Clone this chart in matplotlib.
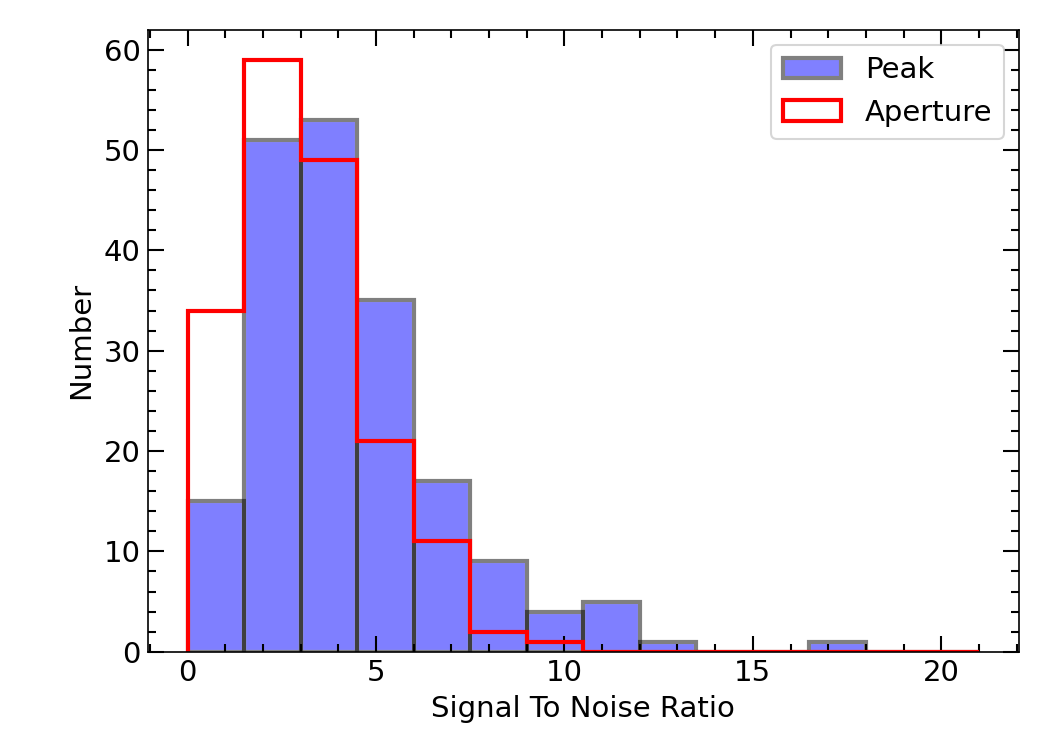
import numpy as np
import matplotlib
matplotlib.use("Agg")
import matplotlib.pyplot as plt
from matplotlib.patches import Patch
from matplotlib.ticker import MultipleLocator

# bin edges: width 1.5 from 0 to 21
bin_edges = np.arange(0, 21.01, 1.5)
peak_counts = [15, 51, 53, 35, 17, 9, 4, 5, 1, 0, 0, 1, 0, 0]
aperture_counts = [34, 59, 49, 21, 11, 2, 1, 0, 0, 0, 0, 0, 0, 0]

centers = bin_edges[:-1] + 0.75

fig, ax = plt.subplots(figsize=(7, 5), dpi=150)
fig.subplots_adjust(left=0.141, right=0.970, top=0.96, bottom=0.131)

# peak: blue faces, then grey edges laid over white so they stay neutral
ax.hist(centers, bins=bin_edges, weights=peak_counts, color="blue", alpha=0.5,
        linewidth=0)
ax.hist(centers, bins=bin_edges, weights=peak_counts, facecolor="none",
        edgecolor="white", linewidth=2)
ax.hist(centers, bins=bin_edges, weights=peak_counts, facecolor="none",
        edgecolor=(0, 0, 0, 0.5), linewidth=2)
ax.hist(centers, bins=bin_edges, weights=aperture_counts, histtype="step",
        color="red", linewidth=2)

ax.set_xlabel("Signal To Noise Ratio", fontsize=14)
ax.set_ylabel("Number", fontsize=14)

ax.xaxis.set_minor_locator(MultipleLocator(1))
ax.yaxis.set_minor_locator(MultipleLocator(2))
ax.tick_params(which="both", direction="in", top=True, right=True, labelsize=14)
ax.tick_params(which="major", length=7.5, width=1)
ax.tick_params(which="minor", length=4, width=1)

handles = [
    Patch(facecolor=(0.5, 0.5, 1.0), edgecolor="0.5", linewidth=2, label="Peak"),
    Patch(facecolor="none", edgecolor="red", linewidth=2, label="Aperture"),
]
ax.legend(handles=handles, loc="upper right", fontsize=14)

fig.savefig("out.png", dpi=150)
